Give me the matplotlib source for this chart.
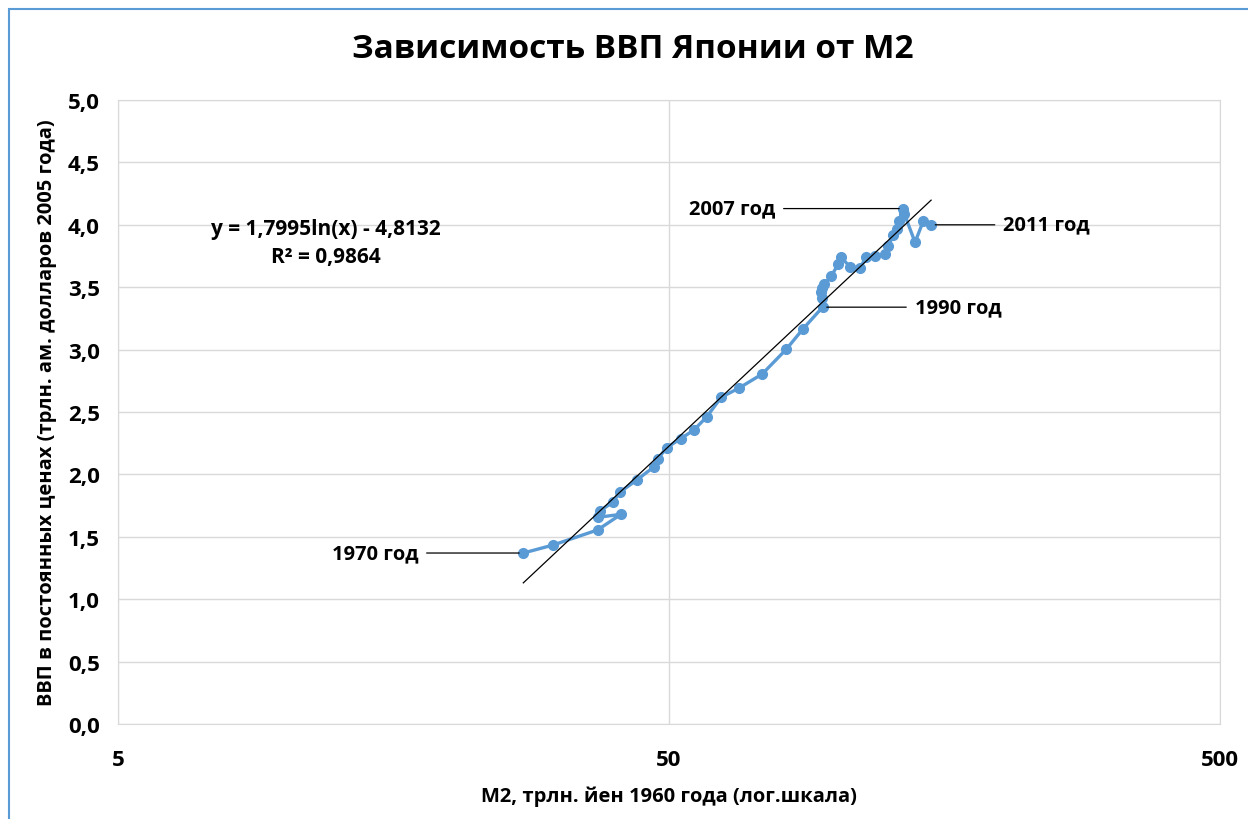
import numpy as np
import matplotlib.pyplot as plt
from matplotlib.patches import Rectangle
from matplotlib.ticker import FixedLocator, FuncFormatter, NullLocator

plt.rcParams['font.family'] = ['Open Sans', 'DejaVu Sans']
plt.rcParams['font.weight'] = 'bold'

# годы 1970-2011
years = list(range(1970, 2012))
m2 = [27.2, 30.8, 37.1, 40.9, 37.1, 37.5, 39.5, 40.7, 43.7, 47.0,
      47.7, 49.5, 52.5, 55.5, 58.5, 62.2, 67.0, 73.8, 81.6, 87.5,
      95.0, 94.6, 94.3, 94.9, 95.6, 98.4, 101.5, 102.6, 106.5, 111.1,
      113.9, 118.3, 123.3, 125.0, 127.7, 129.8, 130.9, 133.1, 133.7, 139.8,
      144.7, 149.5]
gdp = [1.370, 1.434, 1.555, 1.680, 1.656, 1.709, 1.776, 1.857, 1.955, 2.062,
       2.123, 2.214, 2.286, 2.356, 2.460, 2.618, 2.692, 2.804, 3.002, 3.165,
       3.340, 3.410, 3.460, 3.495, 3.525, 3.587, 3.686, 3.739, 3.665, 3.654,
       3.739, 3.752, 3.766, 3.832, 3.918, 3.970, 4.030, 4.130, 4.087, 3.860,
       4.030, 4.000]

trend_a = 1.7995
trend_b = -4.8132
r2 = 0.9864

labeled = {1970: (-105, 0, 'right'), 1990: (92, 0, 'left'),
           2007: (-128, 0, 'right'), 2011: (72, 0, 'left')}

fig = plt.figure(figsize=(12.48, 8.2), dpi=100)
ax = fig.add_axes([118 / 1248, 1 - 725 / 820, (1220 - 118) / 1248, (725 - 101) / 820])

blue = '#5b9bd5'
ax.plot(m2, gdp, color=blue, lw=2.4, marker='o', ms=7, zorder=3)

xt = np.linspace(min(m2), max(m2), 100)
ax.plot(xt, trend_a * np.log(xt) + trend_b, color='black', lw=0.9, zorder=4)

for yr, (dx, dy, ha) in labeled.items():
    i = years.index(yr)
    ax.annotate(f'{yr} год', xy=(m2[i], gdp[i]), xytext=(dx, dy),
                textcoords='offset pixels', ha=ha, va='center', fontsize=14.5,
                fontweight='bold',
                arrowprops=dict(arrowstyle='-', color='black', lw=0.9,
                                shrinkA=4, shrinkB=3))

ax.text(11.9, 3.97, f'y = {trend_a:.4f}ln(x) - {abs(trend_b):.4f}'.replace('.', ','),
        ha='center', va='center', fontsize=15, fontweight='bold')
ax.text(11.9, 3.75, f'R² = {r2:.4f}'.replace('.', ','),
        ha='center', va='center', fontsize=15, fontweight='bold')

ax.set_xscale('log')
ax.set_xlim(5, 500)
ax.set_ylim(0, 5)
ax.xaxis.set_major_locator(FixedLocator([5, 50, 500]))
ax.xaxis.set_minor_locator(NullLocator())
ax.xaxis.set_major_formatter(FuncFormatter(lambda v, p: f'{v:g}'))
ax.set_yticks(np.arange(0, 5.01, 0.5))
ax.yaxis.set_major_formatter(FuncFormatter(lambda v, p: f'{v:.1f}'.replace('.', ',')))
ax.tick_params(length=0, labelsize=16)
ax.tick_params(axis='x', pad=18)
ax.tick_params(axis='y', pad=13)
ax.grid(True, color='#d9d9d9', lw=1)
for s in ax.spines.values():
    s.set_color('#d9d9d9')

ax.set_xlabel('М2, трлн. йен 1960 года (лог.шкала)', fontsize=14.5, fontweight='bold', labelpad=11)
ax.set_ylabel('ВВП в постоянных ценах (трлн. ам. долларов 2005 года)', fontsize=14.5,
              fontweight='bold', labelpad=8)
fig.text(633 / 1248, 1 - 50 / 820, 'Зависимость ВВП Японии от М2', ha='center',
         va='center', fontsize=24, fontweight='bold')

fig.patches.append(Rectangle((9 / 1248, -0.1), 1.2, 1 - 10 / 820 + 0.1,
                             transform=fig.transFigure, fill=False,
                             edgecolor=blue, lw=1.5))

fig.savefig('out.png', dpi=100)
